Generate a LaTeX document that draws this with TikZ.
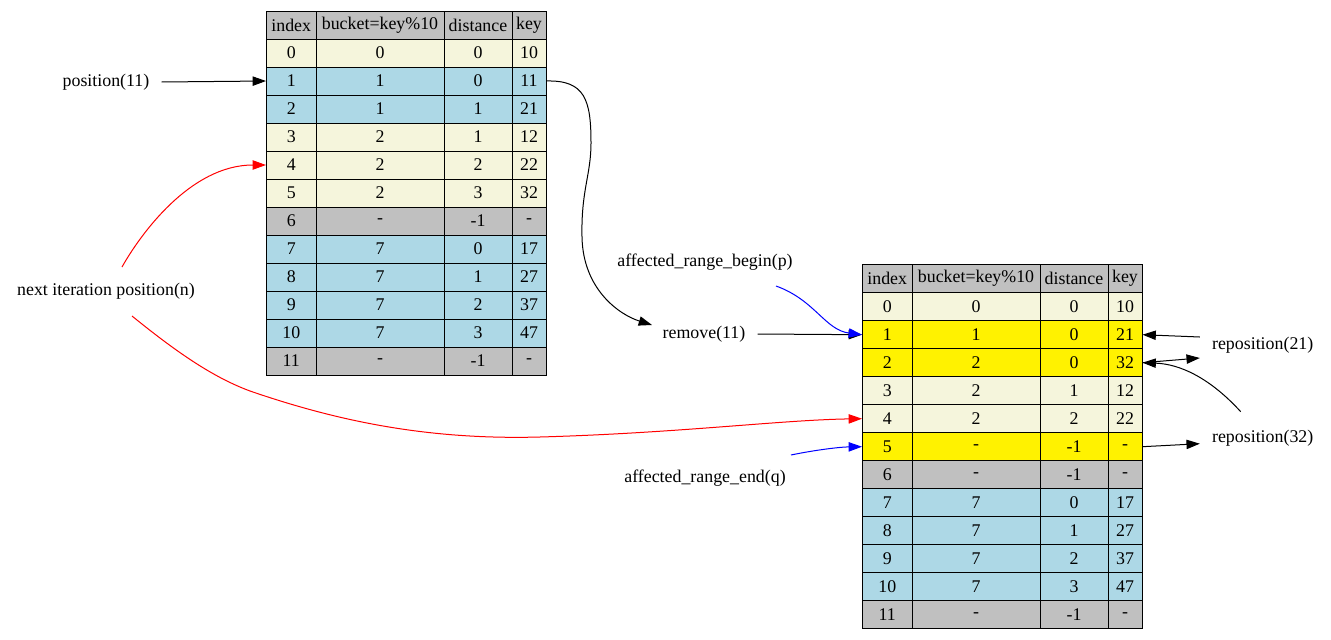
\documentclass[tikz,border=0pt]{standalone}
\usepackage{fontspec}
\setmainfont{Liberation Serif}
\usepackage{tikz}
\usetikzlibrary{calc}
\usetikzlibrary{arrows.meta}
\definecolor{beige}{HTML}{F5F5DC}
\definecolor{lblue}{HTML}{ADD8E6}
\definecolor{hgray}{HTML}{C0C0C0}
\newcommand{\tabfont}{\fontsize{13.4}{16}\selectfont}
\tikzset{
  cell/.style={draw, line width=0.75pt, inner sep=0pt, minimum height=21pt, font=\tabfont},
  lbl/.style={inner xsep=9pt, font=\tabfont},
  edge/.style={->, line width=0.75pt},
  >={Triangle[length=10pt, width=7pt]}
}

\begin{document}
\begin{tikzpicture}[x=0.75pt, y=-0.75pt]
\useasboundingbox (0,0) rectangle (1331,639);
% Left table (before removal)
\def\lx{266.5}
\def\ly{11}
\foreach \lab/\cx/\w/\col in {index/24.75/37.125pt/idx, bucket=key\%10/113.5/96pt/bkt, distance/211.5/51pt/dst, key/262.5/25.5pt/key}{
\node[cell, fill=hgray, minimum width=\w] (L-h-\col) at (\lx+\cx,\ly+14) {\lab};}
\foreach \i/\b/\d/\k/\c in {0/0/0/10/beige, 1/1/0/11/lblue, 2/1/1/21/lblue, 3/2/1/12/beige, 4/2/2/22/beige, 5/2/3/32/beige, 6/-/-1/-/hgray, 7/7/0/17/lblue, 8/7/1/27/lblue, 9/7/2/37/lblue, 10/7/3/47/lblue, 11/-/-1/-/hgray}{
\node[cell, fill=\c, minimum width=37.125pt] (L-\i-idx) at (\lx+24.75,\ly+42+28*\i) {\i};
\node[cell, fill=\c, minimum width=96pt] (L-\i-bkt) at (\lx+113.5,\ly+42+28*\i) {\b};
\node[cell, fill=\c, minimum width=51pt] (L-\i-dst) at (\lx+211.5,\ly+42+28*\i) {\d};
\node[cell, fill=\c, minimum width=25.5pt] (L-\i-key) at (\lx+262.5,\ly+42+28*\i) {\k};}
% Right table (after removal)
\def\rx{862.5}
\def\ry{264.7}
\foreach \lab/\cx/\w/\col in {index/24.75/37.125pt/idx, bucket=key\%10/113.5/96pt/bkt, distance/211.5/51pt/dst, key/262.5/25.5pt/key}{
\node[cell, fill=hgray, minimum width=\w] (R-h-\col) at (\rx+\cx,\ry+14) {\lab};}
\foreach \i/\b/\d/\k/\c in {0/0/0/10/beige, 1/1/0/21/yellow, 2/2/0/32/yellow, 3/2/1/12/beige, 4/2/2/22/beige, 5/-/-1/-/yellow, 6/-/-1/-/hgray, 7/7/0/17/lblue, 8/7/1/27/lblue, 9/7/2/37/lblue, 10/7/3/47/lblue, 11/-/-1/-/hgray}{
\node[cell, fill=\c, minimum width=37.125pt] (R-\i-idx) at (\rx+24.75,\ry+42+28*\i) {\i};
\node[cell, fill=\c, minimum width=96pt] (R-\i-bkt) at (\rx+113.5,\ry+42+28*\i) {\b};
\node[cell, fill=\c, minimum width=51pt] (R-\i-dst) at (\rx+211.5,\ry+42+28*\i) {\d};
\node[cell, fill=\c, minimum width=25.5pt] (R-\i-key) at (\rx+262.5,\ry+42+28*\i) {\k};}
% Labels
\node[lbl] (pos) at (106,82) {position(11)};
\node[lbl] (next) at (106,291) {next iteration position(n)};
\node[lbl] (remove) at (704,334) {remove(11)};
\node[lbl] (begin) at (705,262) {affected\_range\_begin(p)};
\node[lbl] (endq) at (705,478) {affected\_range\_end(q)};
\node[lbl] (rep21) at (1262.7,345) {reposition(21)};
\node[lbl] (rep32) at (1262.7,437.7) {reposition(32)};
% Edges
\draw[edge] (pos.east) -- (L-1-idx.west);
\draw[edge, red] ($(next.center)+(16,-24)$) .. controls (140,235) and (190,165) .. (L-4-idx.west);
\draw[edge, red] ($(next.center)+(26,25)$) .. controls (180,355) and (215,378) .. (250,391) .. controls (340,422) and (430,440) .. (540,437) .. controls (680,433) and (780,420) .. (R-4-idx.west);
\draw[edge] (L-1-key.east) .. controls (585,80) and (591,100) .. (591,143) .. controls (591,175) and (581,190) .. (582,237) .. controls (583,290) and (620,315) .. ($(remove.center)+(-52,-9)$);
\draw[edge] (remove.east) -- (R-1-idx.west);
\draw[edge, blue] ($(begin.center)+(71,24)$) .. controls (815,300) and (825,330) .. (R-1-idx.west);
\draw[edge, blue] ($(endq.center)+(86,-23)$) .. controls (815,450) and (840,447) .. (R-5-idx.west);
\draw[edge] ($(rep21.west)+(0,-8)$) -- (R-1-key.east);
\draw[edge] (R-2-key.east) -- ($(rep21.west)+(0,13)$);
\draw[edge] ($(rep32.center)+(-22,-26)$) .. controls (1210,378) and (1180,364) .. (R-2-key.east);
\draw[edge] (R-5-key.east) -- ($(rep32.west)+(0,6)$);
\end{tikzpicture}
\end{document}
